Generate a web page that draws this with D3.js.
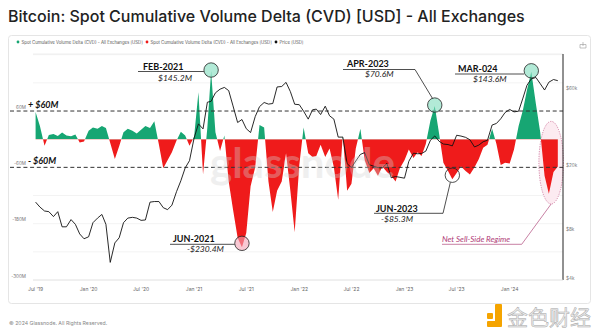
<!DOCTYPE html>
<html>
<head>
<meta charset="utf-8">
<script src="https://cdn.jsdelivr.net/npm/d3@7"></script>
<style>
  body { margin: 0; background: #fff; }
  svg { display: block; }
</style>
</head>
<body>
<svg width="600" height="335"></svg>
<script>
// Spot CVD in $M, two readings per month (1st and 16th), Jul 2019 -> Jun 2024
const cvd2019 = [58, 28, -14, 9, 11, 7, 14, 8, 6, 10, -7, -5];
const cvd2020 = [18, 25, 22, 28, 24, -8, -42, -15, 15, 22, 18, 12,
                 20, 28, 24, 38, -12, -62, -45, -28, -3, 16, 8, -14];
const cvd2021 = [5, 100, -75, 25, 145.2, 15, -25, 8, -90, -150, -210, -230.4,
                 -200, -100, -60, 30, 25, -90, -155, -110, -90, -30, -110, -198];
const cvd2022 = [-55, 25, -30, -38, -36, -12, -38, -20, -60, -129, 8, -110,
                 -95, -20, 22, -45, -72, -62, -78, -58, -70, -78, -90, -62];
const cvd2023 = [-45, -22, -40, -28, -36, -10, 40, 70.6, 12, -50, -68, -85.3,
                 -72, -58, -68, -75, -60, -42, -18, -12, 22, -10, -55, -50];
const cvd2024 = [-52, -22, 28, 62, 105, 143.6, 75, 15, -78, -116, -70, -58];

// BTC price in USD, same dates
const price2019 = [11800, 11000, 10400, 10300, 9600, 10300, 8300, 8300, 9200, 8600, 7500, 7000];
const price2020 = [7200, 8800, 9400, 9900, 8600, 5000, 6600, 7100, 8800, 9400, 9500, 9400,
                   9100, 9150, 11800, 11900, 11900, 10900, 10600, 11300, 13700, 16000, 19200, 21300];
const price2021 = [29400, 36000, 33500, 49000, 49600, 56000, 59000, 60500, 57800, 46500, 36700, 38300,
                   33600, 31800, 39900, 46000, 48800, 47700, 48100, 60900, 61300, 65000, 57000, 47600];
const price2022 = [47300, 43100, 38500, 44000, 44400, 41100, 46300, 40400, 38500, 29800, 29800, 20400,
                   19300, 21200, 23300, 23900, 20100, 19700, 19300, 19200, 20500, 16700, 17000, 16800];
const price2023 = [16600, 21100, 23700, 23500, 23600, 24400, 28500, 30300, 28100, 27000, 26800, 26300,
                   30600, 30250, 29700, 28700, 25900, 26600, 27900, 28500, 35400, 36200, 38700, 42300];
const price2024 = [44200, 42700, 43100, 52000, 62400, 68300, 69700, 63800, 58300, 65200, 67700, 66600];

const leftTicks = [60, -60, -180, -300];
const leftLabels = ["60M", "-60M", "-180M", "-300M"];
const rightTicks = [60000, 20000, 8000, 4000];
const rightLabels = ["$60k", "$20k", "$8k", "$4k"];
const xTickDates = ["2019-07-01", "2020-01-01", "2020-07-01", "2021-01-01", "2021-07-01",
                    "2022-01-01", "2022-07-01", "2023-01-01", "2023-07-01", "2024-01-01"];
const xTickLabels = ["Jul '19", "Jan '20", "Jul '20", "Jan '21", "Jul '21",
                     "Jan '22", "Jul '22", "Jan '23", "Jul '23", "Jan '24"];

const cvd = [].concat(cvd2019, cvd2020, cvd2021, cvd2022, cvd2023, cvd2024);
const price = [].concat(price2019, price2020, price2021, price2022, price2023, price2024);
const dates = cvd.map((_, i) => new Date(2019, 6 + Math.floor(i / 2), i % 2 ? 16 : 1));
const parse = d3.timeParse("%Y-%m-%d");

const GREEN = "#17a673", RED = "#ef1b1b";
const svg = d3.select("svg");
const plot = {left: 33, right: 563, top: 54, bottom: 280};

const x = d3.scaleTime()
    .domain([new Date(2019, 5, 22), new Date(2024, 6, 4)])
    .range([plot.left, plot.right]);
const y = d3.scaleLinear().domain([-300, 181.5]).range([plot.bottom, plot.top]);
const yp = d3.scaleLog().domain([3890, 97400]).range([plot.bottom, plot.top]);

// title + panel
svg.append("text")
    .attr("x", 8).attr("y", 22)
    .attr("font-family", "Inter, Roboto, sans-serif")
    .attr("font-size", 16).attr("font-weight", 500).attr("fill", "#222")
    .text("Bitcoin: Spot Cumulative Volume Delta (CVD) [USD] - All Exchanges");

svg.append("rect")
    .attr("x", 8.5).attr("y", 35.5).attr("width", 582).attr("height", 268).attr("rx", 3)
    .attr("fill", "#fff").attr("stroke", "#e5e5e5");

// legend
const legendItems = [
  {color: GREEN, label: "Spot Cumulative Volume Delta (CVD) - All Exchanges [USD]", x: 18},
  {color: RED, label: "Spot Cumulative Volume Delta (CVD) - All Exchanges [USD]", x: 147},
  {color: "#111", label: "Price [USD]", x: 276}
];
const legend = svg.append("g").selectAll("g").data(legendItems).join("g")
    .attr("transform", d => `translate(${d.x},42)`);
legend.append("circle").attr("r", 1.4).attr("fill", d => d.color);
legend.append("text")
    .attr("x", 3.5).attr("dy", "0.35em")
    .attr("font-family", "Inter, sans-serif").attr("font-size", 4.3).attr("fill", "#555")
    .text(d => d.label);

// small icon top right
svg.append("path")
    .attr("d", "M580,44.5 h6 v3.5 h-6 z M583,42 v4")
    .attr("fill", "none").attr("stroke", "#999").attr("stroke-width", 0.6);

// grid
const grid = svg.append("g");
grid.selectAll("line").data([180, 120, -120, -180, -240, -300]).join("line")
    .attr("x1", plot.left).attr("x2", plot.right)
    .attr("y1", d => y(d)).attr("y2", d => y(d))
    .attr("stroke", "#eeeeee").attr("stroke-width", 0.7);
grid.append("line")
    .attr("x1", plot.left).attr("x2", plot.right)
    .attr("y1", plot.top).attr("y2", plot.top)
    .attr("stroke", "#e8e8e8").attr("stroke-width", 0.7);

// net sell-side ellipse (behind the data)
const ell = {cx: x(parse("2024-05-24")), cy: y(-50), rx: 12.3, ry: 41.3};
svg.append("ellipse")
    .attr("cx", ell.cx).attr("cy", ell.cy).attr("rx", ell.rx).attr("ry", ell.ry)
    .attr("fill", "#fcebf1").attr("stroke", "#c35a88")
    .attr("stroke-width", 0.7).attr("stroke-dasharray", "1.2,1.2");

// CVD areas, split by sign with clip paths
const defs = svg.append("defs");
defs.append("clipPath").attr("id", "clipPos").append("rect")
    .attr("x", plot.left).attr("y", plot.top)
    .attr("width", plot.right - plot.left).attr("height", y(0) - plot.top);
defs.append("clipPath").attr("id", "clipNeg").append("rect")
    .attr("x", plot.left).attr("y", y(0))
    .attr("width", plot.right - plot.left).attr("height", plot.bottom - y(0));

const area = d3.area()
    .x((d, i) => x(dates[i]))
    .y0(y(0))
    .y1(d => y(d));

svg.append("path").datum(cvd)
    .attr("clip-path", "url(#clipPos)")
    .attr("fill", GREEN).attr("d", area);
svg.append("path").datum(cvd)
    .attr("clip-path", "url(#clipNeg)")
    .attr("fill", RED).attr("d", area);

// dashed +/- 60M lines
svg.append("g").selectAll("line").data([60, -60]).join("line")
    .attr("x1", 10).attr("x2", plot.right)
    .attr("y1", d => y(d)).attr("y2", d => y(d))
    .attr("stroke", "#333").attr("stroke-width", 1)
    .attr("stroke-dasharray", "4,2.7");

// price line
const line = d3.line()
    .x((d, i) => x(dates[i]))
    .y(d => yp(d));
svg.append("path").datum(price)
    .attr("fill", "none").attr("stroke", "#111").attr("stroke-width", 0.9)
    .attr("stroke-linejoin", "round")
    .attr("d", line);

// watermark
svg.append("text")
    .attr("x", 210).attr("y", 178)
    .attr("font-family", "Lato, sans-serif").attr("font-size", 42).attr("font-weight", 700)
    .attr("fill", "#d4d4d4").attr("opacity", 0.35)
    .text("glassnode");

// axes
svg.append("line")
    .attr("x1", plot.right).attr("x2", plot.right)
    .attr("y1", plot.top).attr("y2", plot.bottom)
    .attr("stroke", "#222").attr("stroke-width", 1);
svg.append("line")
    .attr("x1", plot.left).attr("x2", plot.right)
    .attr("y1", plot.bottom).attr("y2", plot.bottom)
    .attr("stroke", "#e2e2e2").attr("stroke-width", 0.8);

svg.append("g").selectAll("text").data(leftTicks).join("text")
    .attr("x", 26).attr("y", d => y(d) - 2.5)
    .attr("text-anchor", "end")
    .attr("font-family", "Inter, sans-serif").attr("font-size", 4.6).attr("fill", "#777")
    .text((d, i) => leftLabels[i]);

svg.append("g").selectAll("text").data(rightTicks).join("text")
    .attr("x", 566).attr("y", d => yp(d)).attr("dy", "0.35em")
    .attr("font-family", "Inter, sans-serif").attr("font-size", 4.6).attr("fill", "#777")
    .text((d, i) => rightLabels[i]);

svg.append("g").selectAll("text").data(xTickDates).join("text")
    .attr("x", d => x(parse(d))).attr("y", 289).attr("dy", "0.35em")
    .attr("text-anchor", "middle")
    .attr("font-family", "Inter, sans-serif").attr("font-size", 5).attr("fill", "#666")
    .text((d, i) => xTickLabels[i]);

// +/- 60M labels
const bold = "Lato, sans-serif";
svg.append("text").attr("x", 28).attr("y", y(60) - 3)
    .attr("font-family", bold).attr("font-weight", 700).attr("font-style", "italic")
    .attr("font-size", 9).attr("fill", "#111").text("+ $60M");
svg.append("text").attr("x", 28).attr("y", y(-60) - 3)
    .attr("font-family", bold).attr("font-weight", 700).attr("font-style", "italic")
    .attr("font-size", 9).attr("fill", "#111").text("- $60M");

// annotations
const notes = [
  {date: "2021-03-01", value: 145.2, title: "FEB-2021", sub: "$145.2M", fill: "#7fdcbc",
   tx: 143, ty: 70, sx: 158, sy: 80.5, lx1: 138, ly: 71.5},
  {date: "2023-04-16", value: 70.6, title: "APR-2023", sub: "$70.6M", fill: "#7fdcbc",
   tx: 347, ty: 67, sx: 365, sy: 77, lx1: 343, ly: 69.5, bend: 415},
  {date: "2024-03-16", value: 143.6, title: "MAR-024", sub: "$143.6M", fill: "#7fdcbc",
   tx: 458, ty: 72, sx: 473, sy: 82, lx1: 455, ly: 74},
  {date: "2021-06-16", value: -230.4, title: "JUN-2021", sub: "-$230.4M", fill: "#f3a3b6",
   tx: 173, ty: 242, sx: 187, sy: 252, lx1: 170, ly: 244.3},
  {date: "2023-06-16", value: -85.3, title: "JUN-2023", sub: "-$85.3M", fill: "none",
   tx: 376, ty: 211.5, sx: 381, sy: 221.5, lx1: 374, ly: 213.3, bend: 443}
];
const ann = svg.append("g");
notes.forEach(n => {
  const cx = x(parse(n.date)), cy = y(n.value) - (n.value > 0 ? 1 : 4), r = 7.2;
  let d;
  if (n.bend) {
    d = `M${n.lx1},${n.ly} H${n.bend} L${cx - 2},${n.value > 0 ? cy - r + 1 : cy + r}`;
  } else {
    d = `M${n.lx1},${n.ly} H${cx - r}`;
  }
  ann.append("path").attr("d", d).attr("fill", "none")
      .attr("stroke", "#222").attr("stroke-width", 0.8);
  ann.append("circle").attr("cx", cx).attr("cy", cy).attr("r", r)
      .attr("fill", n.fill).attr("fill-opacity", 0.6)
      .attr("stroke", "#222").attr("stroke-width", 0.8);
  ann.append("text").attr("x", n.tx).attr("y", n.ty)
      .attr("font-family", bold).attr("font-weight", 700)
      .attr("font-size", 9).attr("fill", "#111").text(n.title);
  ann.append("text").attr("x", n.sx).attr("y", n.sy)
      .attr("font-family", bold).attr("font-style", "italic")
      .attr("font-size", 8.5).attr("fill", "#222").text(n.sub);
});

// net sell-side label
svg.append("path")
    .attr("d", `M442,244.3 H521.7 L${ell.cx},${ell.cy + ell.ry}`)
    .attr("fill", "none").attr("stroke", "#b04a7c").attr("stroke-width", 0.7);
svg.append("text").attr("x", 442).attr("y", 241.5)
    .attr("font-family", bold).attr("font-style", "italic")
    .attr("font-size", 8).attr("fill", "#b03a76").text("Net Sell-Side Regime");

// footer
svg.append("text").attr("x", 9).attr("y", 325)
    .attr("font-family", "Inter, sans-serif").attr("font-size", 5.2).attr("fill", "#888")
    .text("© 2024 Glassnode. All Rights Reserved.");

// jinse watermark logo
const logo = svg.append("g").attr("fill", "#f5a400");
logo.append("rect").attr("x", 487).attr("y", 313).attr("width", 6).attr("height", 6).attr("rx", 1);
logo.append("rect").attr("x", 495).attr("y", 304).attr("width", 7).attr("height", 22).attr("rx", 1);
logo.append("rect").attr("x", 487).attr("y", 321).attr("width", 15).attr("height", 6).attr("rx", 1);
svg.append("text").attr("x", 507).attr("y", 325)
    .attr("font-family", "'Noto Sans CJK SC', sans-serif").attr("font-size", 21)
    .attr("fill", "#eeeeee").attr("stroke", "#a8a8a8").attr("stroke-width", 0.5)
    .text("金色财经");
</script>
</body>
</html>
